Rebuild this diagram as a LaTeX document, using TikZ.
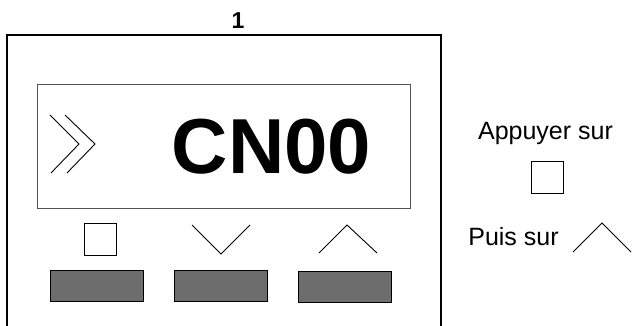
\documentclass[tikz,border=0pt]{standalone}
\usepackage{fontspec}
\setmainfont{Liberation Sans}
\usetikzlibrary{positioning}
\definecolor{keygray}{HTML}{6D6D6D}
\definecolor{framegray}{HTML}{505050}

\begin{document}
\begin{tikzpicture}[x=1pt,y=-1pt,line join=miter,
	key/.style={draw=black,fill=keygray,line width=1pt,minimum width=93pt,minimum height=31pt,inner sep=0pt},
	symbox/.style={draw=black,line width=0.9pt,minimum size=32pt,inner sep=0pt},
	sym/.style={draw=black,line width=0.9pt},
	label/.style={font=\fontsize{25}{28}\selectfont,inner sep=0pt,anchor=base}]
	\useasboundingbox (0,0) rectangle (632,326);
	
	% boitier et afficheur
	\draw[line width=1.4pt] (7,340)--(7,35)--(441,35)--(441,340);
	\node[font=\bfseries\fontsize{23}{26}\selectfont,inner sep=0pt,anchor=base] (num) at (238,29) {1};
	\draw[framegray,line width=0.9pt] (37,84) rectangle (410,208);
	\draw[sym] (50,115)--(79,144)--(51,173);
	\draw[sym] (65,115)--(95,144)--(67,173);
	\node[font=\bfseries\fontsize{78}{78}\selectfont,inner sep=0pt,anchor=base] (code) at (271.5,173) {CN00};
	
	% touches
	\node[key] (k1) at (96.5,286) {};
	\node[key] (k2) at (220.5,286) {};
	\node[key] (k3) at (344.5,286.5) {};
	\node[symbox] (sq) at (100,239) {};
	\coordinate (vl) at (192,225);
	\coordinate (vb) at (221,254);
	\coordinate (vr) at (250,225);
	\draw[sym] (vl)--(vb)--(vr);
	\coordinate (al) at (319,253);
	\coordinate (at) at (347,225);
	\coordinate (ar) at (377,253);
	\draw[sym] (al)--(at)--(ar);
	
	% consigne
	\node[label] (appuyer) at (545.5,140) {Appuyer sur};
	\node[symbox] (sqr) at (547,177.5) {};
	\node[label] (puis) at (513.5,245) {Puis sur};
	\coordinate (pl) at (573,252);
	\coordinate (pt) at (602,223);
	\coordinate (pr) at (631,252);
	\draw[sym] (pl)--(pt)--(pr);
\end{tikzpicture}
\end{document}
